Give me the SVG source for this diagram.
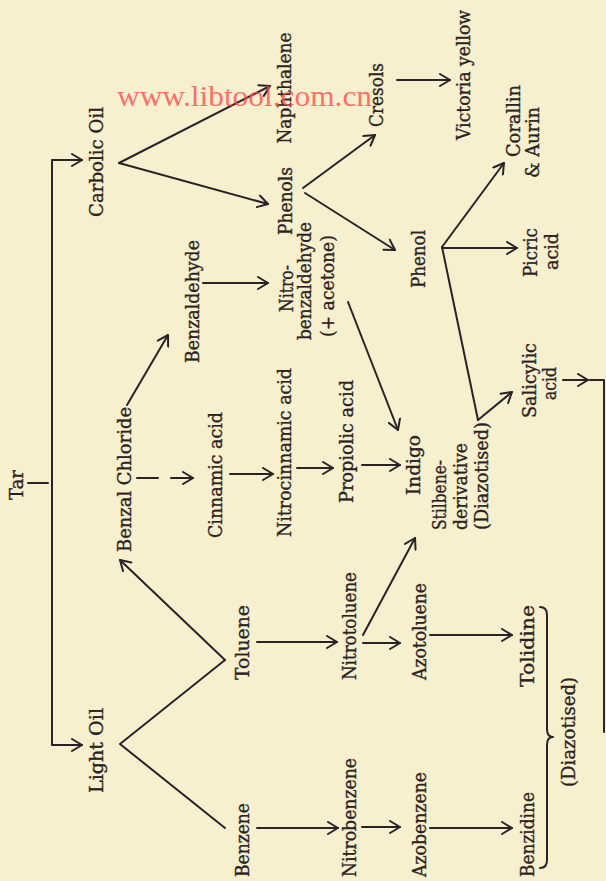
<svg xmlns="http://www.w3.org/2000/svg" width="606" height="881" viewBox="0 0 606 881">
<style>
.t{font-family:"DejaVu Serif","Liberation Serif",serif;font-size:18px;fill:#2a2222;stroke:#2a2222;stroke-width:0.35;}
.c{stroke:#2a2226;stroke-width:2;fill:none;stroke-linecap:round;stroke-linejoin:round;}
.a{marker-end:url(#ah);}
.wm{font-family:"Liberation Serif",serif;font-size:30px;fill:#ff4d4d;fill-opacity:0.8;}
</style>
<defs>
<marker id="ah" viewBox="0 0 12 14" refX="11" refY="7" markerWidth="12" markerHeight="14" markerUnits="userSpaceOnUse" orient="auto">
<path d="M1,1 L11,7 L1,13" fill="none" stroke="#2a2226" stroke-width="2" stroke-linecap="round" stroke-linejoin="round"/>
</marker>
</defs>
<rect width="606" height="881" fill="#f7f0cf"/>

<g id="connectors">
<path class="c" d="M28,483 H48"/>
<path class="c a" d="M52,483 V160 H82"/>
<path class="c a" d="M52,483 V745 H82"/>
<path class="c a" d="M119,163 L270,86"/>
<path class="c a" d="M119,163 L268,204"/>
<path class="c a" d="M303,188 L375,135"/>
<path class="c a" d="M305,193 L395,250"/>
<path class="c a" d="M397,80 L450,80"/>
<path class="c a" d="M442,247 L504,163"/>
<path class="c a" d="M442,248 L517,248"/>
<path class="c" d="M442,247 L478,420"/>
<path class="c a" d="M478,420 L512,392"/>
<path class="c a" d="M563,380 L588,380"/>
<path class="c" d="M590,380 H604 V732"/>
<path class="c a" d="M127,405 L168,335"/>
<path class="c" d="M137,478 H158"/>
<path class="c a" d="M171,478 H193"/>
<path class="c a" d="M203,283 H268"/>
<path class="c a" d="M230,474 H273"/>
<path class="c a" d="M297,468 H333"/>
<path class="c a" d="M362,465 H400"/>
<path class="c a" d="M348,302 L398,430"/>
<path class="c" d="M225,660 L120,744 L225,828"/>
<path class="c a" d="M225,660 L120,560"/>
<path class="c a" d="M257,642 H337"/>
<path class="c a" d="M363,635 L415,538"/>
<path class="c a" d="M363,643 H400"/>
<path class="c a" d="M430,635 H512"/>
<path class="c a" d="M257,828 H338"/>
<path class="c a" d="M362,827 H400"/>
<path class="c a" d="M430,828 H512"/>
<path class="c" d="M540,607 Q547,607 547,615 V729 Q547,737 553,737 Q547,737 547,745 V860 Q547,868 540,868"/>
</g>

<g id="tar"><text class="t" transform="translate(23,485) rotate(-90)" text-anchor="middle" textLength="30" lengthAdjust="spacingAndGlyphs">Tar</text></g>
<g id="carbolic-oil"><text class="t" transform="translate(103,162) rotate(-90)" text-anchor="middle" textLength="110" lengthAdjust="spacingAndGlyphs">Carbolic Oil</text></g>
<g id="naphthalene"><text class="t" transform="translate(291,88) rotate(-90)" text-anchor="middle" textLength="111" lengthAdjust="spacingAndGlyphs">Naphthalene</text></g>
<g id="phenols"><text class="t" transform="translate(292,201) rotate(-90)" text-anchor="middle" textLength="68" lengthAdjust="spacingAndGlyphs">Phenols</text></g>
<g id="cresols"><text class="t" transform="translate(383,95) rotate(-90)" text-anchor="middle" textLength="64" lengthAdjust="spacingAndGlyphs">Cresols</text></g>
<g id="victoria-yellow"><text class="t" transform="translate(470,75) rotate(-90)" text-anchor="middle" textLength="130" lengthAdjust="spacingAndGlyphs">Victoria yellow</text></g>
<g id="corallin-aurin">
<text class="t" transform="translate(520,121) rotate(-90)" text-anchor="middle" textLength="72" lengthAdjust="spacingAndGlyphs">Corallin</text>
<text class="t" transform="translate(539,142.5) rotate(-90)" text-anchor="middle" textLength="71" lengthAdjust="spacingAndGlyphs">&amp; Aurin</text>
</g>
<g id="phenol"><text class="t" transform="translate(425,259) rotate(-90)" text-anchor="middle" textLength="58" lengthAdjust="spacingAndGlyphs">Phenol</text></g>
<g id="picric-acid">
<text class="t" transform="translate(537,252.5) rotate(-90)" text-anchor="middle" textLength="49" lengthAdjust="spacingAndGlyphs">Picric</text>
<text class="t" transform="translate(558,251.5) rotate(-90)" text-anchor="middle" textLength="37" lengthAdjust="spacingAndGlyphs">acid</text>
</g>
<g id="salicylic-acid">
<text class="t" transform="translate(536,380.5) rotate(-90)" text-anchor="middle" textLength="75" lengthAdjust="spacingAndGlyphs">Salicylic</text>
<text class="t" transform="translate(556,383.5) rotate(-90)" text-anchor="middle" textLength="33" lengthAdjust="spacingAndGlyphs">acid</text>
</g>
<g id="benzal-chloride"><text class="t" transform="translate(131,479.5) rotate(-90)" text-anchor="middle" textLength="145" lengthAdjust="spacingAndGlyphs">Benzal Chloride</text></g>
<g id="benzaldehyde"><text class="t" transform="translate(199,301.5) rotate(-90)" text-anchor="middle" textLength="123" lengthAdjust="spacingAndGlyphs">Benzaldehyde</text></g>
<g id="cinnamic-acid"><text class="t" transform="translate(222,475) rotate(-90)" text-anchor="middle" textLength="126" lengthAdjust="spacingAndGlyphs">Cinnamic acid</text></g>
<g id="nitrocinnamic-acid"><text class="t" transform="translate(291,452.5) rotate(-90)" text-anchor="middle" textLength="169" lengthAdjust="spacingAndGlyphs">Nitrocinnamic acid</text></g>
<g id="propiolic-acid"><text class="t" transform="translate(353,441.5) rotate(-90)" text-anchor="middle" textLength="123" lengthAdjust="spacingAndGlyphs">Propiolic acid</text></g>
<g id="nitrobenzaldehyde">
<text class="t" transform="translate(293,288.5) rotate(-90)" text-anchor="middle" textLength="47" lengthAdjust="spacingAndGlyphs">Nitro-</text>
<text class="t" transform="translate(311,281) rotate(-90)" text-anchor="middle" textLength="118" lengthAdjust="spacingAndGlyphs">benzaldehyde</text>
<text class="t" transform="translate(334,286) rotate(-90)" text-anchor="middle" textLength="102" lengthAdjust="spacingAndGlyphs">(+ acetone)</text>
</g>
<g id="indigo"><text class="t" transform="translate(420,465) rotate(-90)" text-anchor="middle" textLength="60" lengthAdjust="spacingAndGlyphs">Indigo</text></g>
<g id="stilbene-derivative">
<text class="t" transform="translate(446,530) rotate(-90)" textLength="70" lengthAdjust="spacingAndGlyphs">Stilbene-</text>
<text class="t" transform="translate(467,530) rotate(-90)" textLength="87" lengthAdjust="spacingAndGlyphs">derivative</text>
<text class="t" transform="translate(488,530) rotate(-90)" textLength="108" lengthAdjust="spacingAndGlyphs">(Diazotised)</text>
</g>
<g id="light-oil"><text class="t" transform="translate(103,750.5) rotate(-90)" text-anchor="middle" textLength="85" lengthAdjust="spacingAndGlyphs">Light Oil</text></g>
<g id="toluene"><text class="t" transform="translate(249,642.5) rotate(-90)" text-anchor="middle" textLength="75" lengthAdjust="spacingAndGlyphs">Toluene</text></g>
<g id="nitrotoluene"><text class="t" transform="translate(356,626) rotate(-90)" text-anchor="middle" textLength="108" lengthAdjust="spacingAndGlyphs">Nitrotoluene</text></g>
<g id="azotoluene"><text class="t" transform="translate(426,631.5) rotate(-90)" text-anchor="middle" textLength="97" lengthAdjust="spacingAndGlyphs">Azotoluene</text></g>
<g id="tolidine"><text class="t" transform="translate(534,646) rotate(-90)" text-anchor="middle" textLength="82" lengthAdjust="spacingAndGlyphs">Tolidine</text></g>
<g id="benzene"><text class="t" transform="translate(249,840) rotate(-90)" text-anchor="middle" textLength="74" lengthAdjust="spacingAndGlyphs">Benzene</text></g>
<g id="nitrobenzene"><text class="t" transform="translate(356,817.5) rotate(-90)" text-anchor="middle" textLength="119" lengthAdjust="spacingAndGlyphs">Nitrobenzene</text></g>
<g id="azobenzene"><text class="t" transform="translate(426,824.5) rotate(-90)" text-anchor="middle" textLength="105" lengthAdjust="spacingAndGlyphs">Azobenzene</text></g>
<g id="benzidine"><text class="t" transform="translate(534,834.5) rotate(-90)" text-anchor="middle" textLength="85" lengthAdjust="spacingAndGlyphs">Benzidine</text></g>
<g id="diazotised"><text class="t" transform="translate(575,732) rotate(-90)" text-anchor="middle" textLength="110" lengthAdjust="spacingAndGlyphs">(Diazotised)</text></g>

<g id="watermark"><text class="wm" x="117" y="106" textLength="255" lengthAdjust="spacingAndGlyphs">www.libtool.com.cn</text></g>
</svg>
